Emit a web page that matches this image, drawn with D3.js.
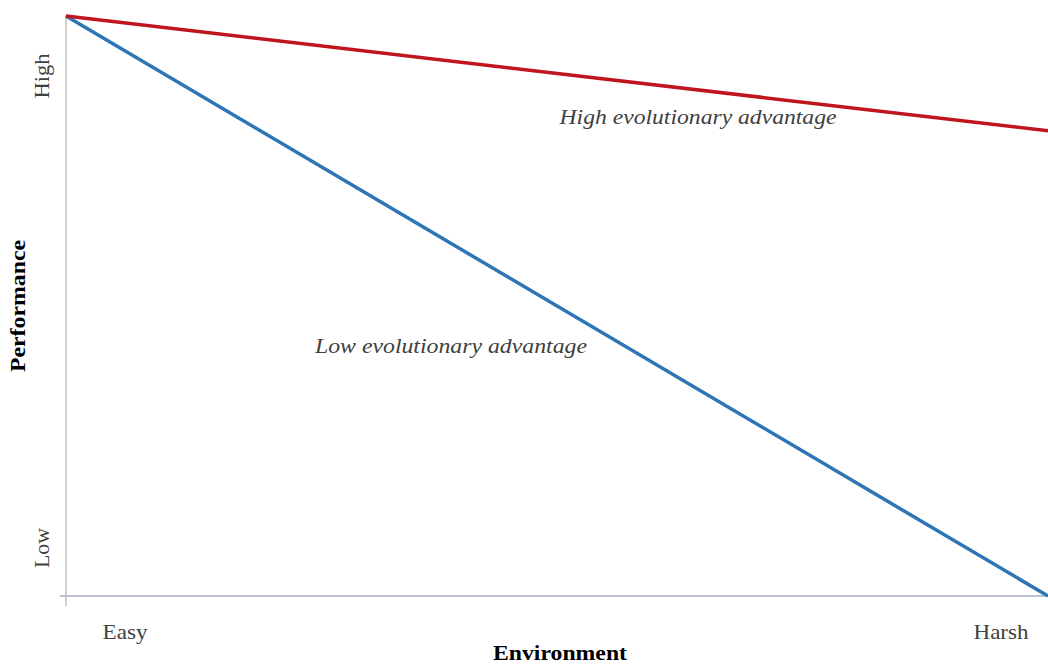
<!DOCTYPE html>
<html>
<head>
<meta charset="utf-8">
<script src="https://cdn.jsdelivr.net/npm/d3@7"></script>
<style>
  body { margin: 0; background: #fff; }
  text { font-family: "Liberation Serif", "Times New Roman", serif; fill: #404040; }
</style>
</head>
<body>
<div id="chart"></div>
<script>
'use strict';

// environment runs from easy (0) to harsh (1), performance from low (0) to high (1)
var envLabels = ['Easy', 'Harsh'];
var perfLabels = ['Low', 'High'];
var envValues = [0, 1];
var highAdvantage = [1, 0.802];
var lowAdvantage = [1, 0];
var seriesNames = ['High evolutionary advantage', 'Low evolutionary advantage'];

var width = 1048, height = 664;

var svg = d3.select('#chart').append('svg')
  .attr('width', width)
  .attr('height', height);

var x = d3.scaleLinear().domain([0, 1]).range([66, 1048]);
var y = d3.scaleLinear().domain([0, 1]).range([596, 16]);
var xCat = d3.scalePoint().domain(envLabels).range([125, 1001]);
var yCat = d3.scalePoint().domain(perfLabels).range([548, 76]);

// the reference text is a bit wider than the font draws it, so stretch it
function stretch(sel, len) {
  sel.attr('textLength', len).attr('lengthAdjust', 'spacingAndGlyphs');
}

// axis lines
svg.append('line')
  .attr('x1', x(0)).attr('x2', x(0))
  .attr('y1', y(1)).attr('y2', y(0) + 10)
  .attr('stroke', '#bfbfbf').attr('stroke-width', 1.5);

svg.append('line')
  .attr('x1', x(0) - 6).attr('x2', x(1))
  .attr('y1', y(0)).attr('y2', y(0))
  .attr('stroke', '#a6aebf').attr('stroke-width', 1.5);

// tick labels
svg.selectAll('text.xtick')
  .data(envLabels)
  .enter()
  .append('text')
  .attr('class', 'xtick')
  .attr('x', function(d) { return xCat(d); })
  .attr('y', 639)
  .attr('text-anchor', 'middle')
  .attr('font-size', 21)
  .text(function(d) { return d; })
  .each(function(d, i) { stretch(d3.select(this), [45, 55][i]); });

svg.selectAll('text.ytick')
  .data(perfLabels)
  .enter()
  .append('text')
  .attr('class', 'ytick')
  .attr('transform', function(d) { return 'translate(49,' + yCat(d) + ') rotate(-90)'; })
  .attr('text-anchor', 'middle')
  .attr('font-size', 21)
  .text(function(d) { return d; })
  .each(function(d, i) { stretch(d3.select(this), [40, 45][i]); });

// axis titles
svg.append('text')
  .attr('x', 560).attr('y', 660)
  .attr('text-anchor', 'middle')
  .attr('font-size', 21)
  .attr('font-weight', 'bold')
  .style('fill', '#000')
  .text('Environment')
  .call(stretch, 134);

svg.append('text')
  .attr('transform', 'translate(25,306) rotate(-90)')
  .attr('text-anchor', 'middle')
  .attr('font-size', 21)
  .attr('font-weight', 'bold')
  .style('fill', '#000')
  .text('Performance')
  .call(stretch, 132);

var line = d3.line()
  .x(function(d) { return x(d[0]); })
  .y(function(d) { return y(d[1]); });

svg.append('path')
  .datum(d3.zip(envValues, lowAdvantage))
  .attr('d', line)
  .attr('fill', 'none')
  .attr('stroke', '#2e75b6')
  .attr('stroke-width', 3.5);

svg.append('path')
  .datum(d3.zip(envValues, highAdvantage))
  .attr('d', line)
  .attr('fill', 'none')
  .attr('stroke', '#c0141f')
  .attr('stroke-width', 3.5);

// series annotations
svg.append('text')
  .attr('x', 698).attr('y', 124)
  .attr('text-anchor', 'middle')
  .attr('font-size', 22)
  .attr('font-style', 'italic')
  .text(seriesNames[0])
  .call(stretch, 277);

svg.append('text')
  .attr('x', 451).attr('y', 353)
  .attr('text-anchor', 'middle')
  .attr('font-size', 22)
  .attr('font-style', 'italic')
  .text(seriesNames[1])
  .call(stretch, 272);
</script>
</body>
</html>
